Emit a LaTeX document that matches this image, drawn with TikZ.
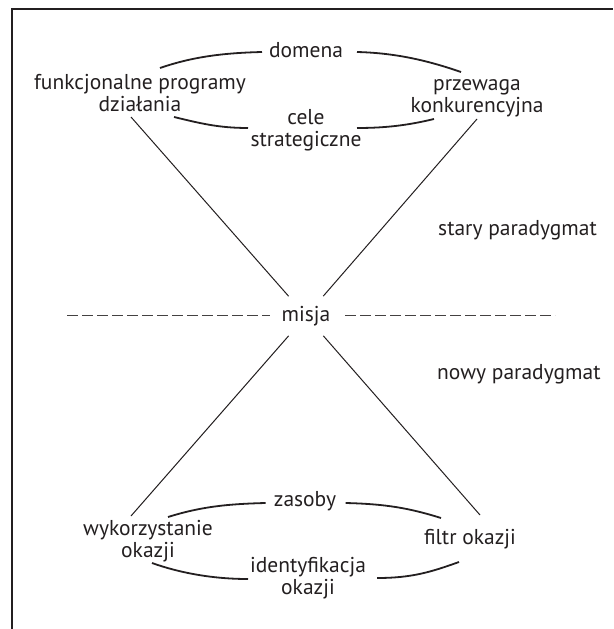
\documentclass[tikz,border=0pt]{standalone}
\usepackage{fontspec}
\setmainfont{PT Sans}
\definecolor{ink}{HTML}{231F20}
\begin{document}
\begin{tikzpicture}[x=1pt,y=-1pt,
  lbl/.style={font=\fontsize{21.5}{22}\selectfont, text=ink, inner sep=0pt, align=center},
  ring/.style={line width=1.8pt, draw=ink},
  spoke/.style={line width=1pt, draw=ink},
  divider/.style={line width=1.5pt, draw=ink!85, dash pattern=on 11pt off 4pt},
  frame/.style={line width=2pt, draw=ink}]
\useasboundingbox (0,0) rectangle (613,629);
% open frame: only the top and left edges are visible
\draw[frame] (12,629) -- (12,9) -- (613,9);

% labels (two-line labels are placed by the baseline of their last line)
\node[lbl, anchor=base] (domena) at (306,57) {domena};
\node[lbl, anchor=base] (funk) at (140,111) {funkcjonalne programy\\działania};
\node[lbl, anchor=base] (przew) at (477,112) {przewaga\\konkurencyjna};
\node[lbl, anchor=base] (cele) at (306,146) {cele\\strategiczne};
\node[lbl, anchor=base west] (stary) at (438,235) {stary paradygmat};
\node[lbl, anchor=base west] (nowy) at (437,379) {nowy paradygmat};
\node[lbl, circle, minimum size=44pt] (misja) at (306,316) {misja};
\node[lbl, anchor=base] (zasoby) at (305,506) {zasoby};
\node[lbl, anchor=base] (wyk) at (148,557) {wykorzystanie\\okazji};
\node[lbl, anchor=base] (filtr) at (470,544) {filtr okazji};
\node[lbl, anchor=base] (ident) at (308,594) {identyfikacja\\okazji};

% end points of the ring arcs
\coordinate (t1) at (160,68);   \coordinate (t2) at (262,52);
\coordinate (t3) at (357,52);   \coordinate (t4) at (461,72);
\coordinate (t5) at (174,117);  \coordinate (t6) at (248,128);
\coordinate (t7) at (357,128);  \coordinate (t8) at (434,119);
\coordinate (b1) at (168,517);  \coordinate (b2) at (265.6,503);
\coordinate (b3) at (345.7,503);\coordinate (b4) at (441,518);
\coordinate (b5) at (152,563);  \coordinate (b6) at (248,579);
\coordinate (b7) at (377,578);  \coordinate (b8) at (459,562);

% upper ring
\draw[ring] (t1) .. controls +(32,-11) and +(-40,1) .. (t2);
\draw[ring] (t3) .. controls +(40,1) and +(-32,-11) .. (t4);
\draw[ring] (t5) .. controls +(25,6) and +(-30,0) .. (t6);
\draw[ring] (t7) .. controls +(30,0) and +(-25,6) .. (t8);
% lower ring
\draw[ring] (b1) .. controls +(32,-10) and +(-40,1) .. (b2);
\draw[ring] (b3) .. controls +(40,1) and +(-32,-10) .. (b4);
\draw[ring] (b5) .. controls +(28,10) and +(-35,0) .. (b6);
\draw[ring] (b7) .. controls +(35,0) and +(-28,10) .. (b8);

% spokes through the mission
\coordinate (s1) at (131,117);
\coordinate (s2) at (477,119);
\coordinate (s3) at (131,516);
\coordinate (s4) at (480,515);
\draw[spoke] (misja) -- (s1);
\draw[spoke] (misja) -- (s2);
\draw[spoke] (misja) -- (s3);
\draw[spoke] (misja) -- (s4);

% dashed divider between the paradigms
\coordinate (dl1) at (67,315.5);  \coordinate (dl2) at (270,315.5);
\coordinate (dr1) at (345,315.5); \coordinate (dr2) at (555,315.5);
\draw[divider] (dl1) -- (dl2);
\draw[divider] (dr1) -- (dr2);
\end{tikzpicture}
\end{document}
